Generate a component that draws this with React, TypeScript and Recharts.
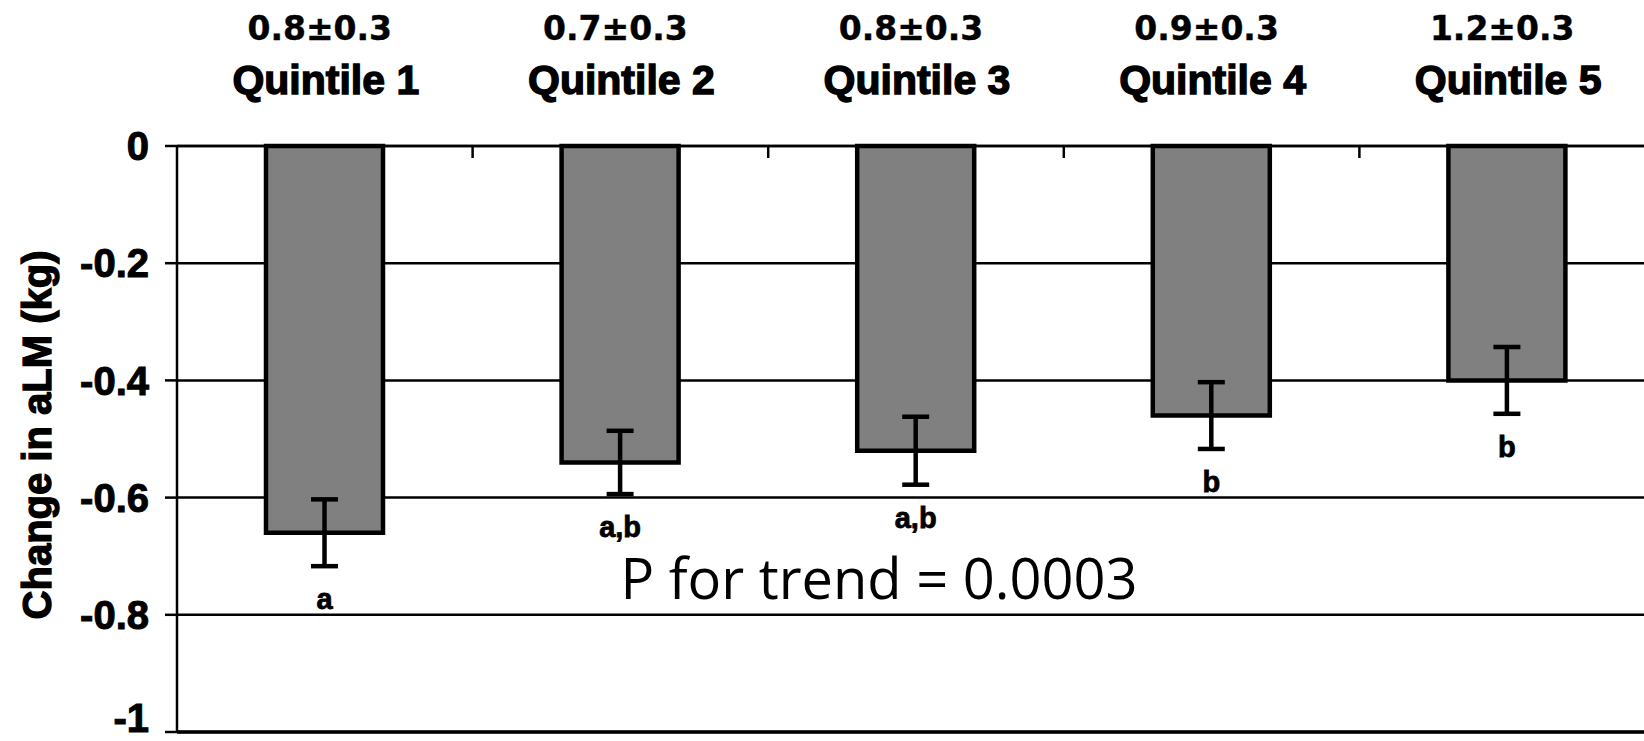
import React from 'react';
import {
  BarChart,
  Bar,
  XAxis,
  YAxis,
  CartesianGrid,
  ErrorBar,
  LabelList,
  ReferenceLine,
  Customized,
} from 'recharts';

// Quintile groups and the mean protein intake printed above each one
const quintiles = ['Quintile 1', 'Quintile 2', 'Quintile 3', 'Quintile 4', 'Quintile 5'];
const intakeLabels = ['0.8±0.3', '0.7±0.3', '0.8±0.3', '0.9±0.3', '1.2±0.3'];

// Mean change in appendicular lean mass (kg) and its standard error
const changeALM = [-0.66, -0.54, -0.52, -0.46, -0.4];
const changeSE = [0.057, 0.054, 0.058, 0.057, 0.057];

// Letters marking groups that do not differ significantly
const groupLetters = ['a', 'a,b', 'a,b', 'b', 'b'];

const yTicks = [0, -0.2, -0.4, -0.6, -0.8, -1];

const data = quintiles.map((q, i) => ({
  quintile: q,
  intake: intakeLabels[i],
  change: changeALM[i],
  err: changeSE[i],
  letter: groupLetters[i],
}));

const SANS = '"Liberation Sans", Arial, Helvetica, sans-serif';
const WIDE_SANS = '"DejaVu Sans", Verdana, sans-serif';

const QuintileTick = (props: any) => {
  const { x, y, payload, index, visibleTicksCount } = props;
  const half = payload && payload.offset ? payload.offset : 0;
  const isLast = index === (visibleTicksCount ?? quintiles.length) - 1;
  return (
    <g>
      <text
        x={x - 5}
        y={y - 106}
        textAnchor="middle"
        fontFamily={WIDE_SANS}
        fontWeight="bold"
        fontSize={33}
        fill="#000"
        stroke="#000"
        strokeWidth={0.4}
      >
        {intakeLabels[index]}
      </text>
      <text
        x={x + 1}
        y={y - 52}
        textAnchor="middle"
        fontFamily={SANS}
        fontWeight="bold"
        fontSize={41}
        fill="#000"
        stroke="#000"
        strokeWidth={1.4}
      >
        {payload.value}
      </text>
      {!isLast && half > 0 && (
        <line x1={x + half} y1={y} x2={x + half} y2={y + 12} stroke="#000" strokeWidth={2.5} />
      )}
    </g>
  );
};

const LetterLabel = (props: any) => {
  const { x, y, width, height, index } = props;
  const v = changeALM[index];
  const barEnd = Math.max(y, y + height);
  const pxPerUnit = Math.abs(height) / Math.abs(v);
  const errBottom = barEnd + changeSE[index] * pxPerUnit;
  return (
    <text
      x={x + width / 2}
      y={errBottom + 43}
      textAnchor="middle"
      fontFamily={SANS}
      fontWeight="bold"
      fontSize={29}
      fill="#000"
      stroke="#000"
      strokeWidth={0.8}
    >
      {groupLetters[index]}
    </text>
  );
};

const YTitle = (props: any) => {
  const vb = props.viewBox || { x: 0, y: 0, width: 0, height: 0 };
  const cx = vb.x + 51;
  const cy = vb.y + vb.height / 2 - 4;
  return (
    <text
      x={cx}
      y={cy}
      transform={`rotate(-90, ${cx}, ${cy})`}
      textAnchor="middle"
      fontFamily={SANS}
      fontWeight="bold"
      fontSize={40}
      fill="#000"
      stroke="#000"
      strokeWidth={1.3}
    >
      Change in aLM (kg)
    </text>
  );
};

const TrendNote = () => (
  <text
    x={879}
    y={599}
    textAnchor="middle"
    fontFamily='"Open Sans", "Noto Sans", sans-serif'
    fontSize={56}
    fill="#000"
  >
    P for trend = 0.0003
  </text>
);

export default function App() {
  return (
    <div
      style={{
        position: 'absolute',
        left: 0,
        top: 0,
        width: 1644,
        height: 741,
        overflow: 'hidden',
        background: '#fff',
      }}
    >
      <BarChart
        width={1660}
        height={741}
        data={data}
        margin={{ top: 0, right: 5, bottom: 9, left: 0 }}
        barCategoryGap={0}
      >
        <CartesianGrid horizontal vertical={false} stroke="#000" strokeWidth={2.5} strokeOpacity={1} />
        <XAxis
          dataKey="quintile"
          orientation="top"
          height={146}
          axisLine={{ stroke: '#000', strokeWidth: 2.5 }}
          tickLine={false}
          tickSize={0}
          tickMargin={0}
          interval={0}
          tick={<QuintileTick />}
        />
        <YAxis
          type="number"
          domain={[-1, 0]}
          ticks={yTicks}
          width={177}
          axisLine={{ stroke: '#000', strokeWidth: 2.5 }}
          tickLine={{ stroke: '#000', strokeWidth: 2.5 }}
          tickSize={12}
          tickMargin={16}
          tick={{ fill: '#000', fontFamily: SANS, fontWeight: 'bold', fontSize: 40, stroke: '#000', strokeWidth: 1 }}
          label={<YTitle />}
        />
        <ReferenceLine y={-1} stroke="#000" strokeWidth={3.5} />
        <Bar
          dataKey="change"
          fill="#808080"
          stroke="#000"
          strokeWidth={4.5}
          barSize={117}
          isAnimationActive={false}
        >
          <ErrorBar dataKey="err" width={13.5} stroke="#000" strokeWidth={4.5} direction="y" />
          <LabelList dataKey="letter" content={<LetterLabel />} />
        </Bar>
        <Customized component={<TrendNote />} />
      </BarChart>
    </div>
  );
}
